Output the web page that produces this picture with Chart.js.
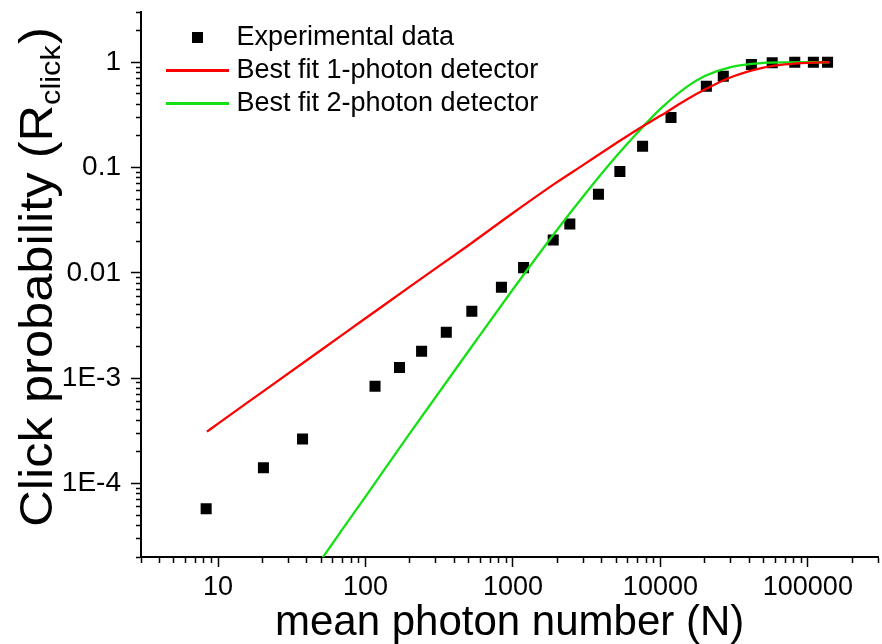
<!DOCTYPE html>
<html>
<head>
<meta charset="utf-8">
<script src="https://cdn.jsdelivr.net/npm/chart.js@4.4.1/dist/chart.umd.min.js"></script>
<style>
  html, body { margin: 0; padding: 0; background: #fff; overflow: hidden; }
  #chart_div { width: 886px; height: 644px; }
</style>
</head>
<body>
<div id="chart_div"><canvas id="click_canvas" width="886" height="644"></canvas></div>
<script>
// experimental points (mean photon number, click probability)
const exp_n = [8.3, 20.3, 37.4, 116, 170, 240, 353, 526, 835, 1180, 1875, 2430, 3800, 5310, 7570, 11800, 20500, 26700, 41400, 57300, 81500, 109000, 136000];
const exp_r = [5.75e-5, 1.41e-4, 2.64e-4, 8.35e-4, 1.26e-3, 1.80e-3, 2.72e-3, 4.31e-3, 7.28e-3, 0.0112, 0.0205, 0.0291, 0.0557, 0.0916, 0.159, 0.298, 0.591, 0.736, 0.951, 0.99, 1.0, 1.0, 1.0];

// best fit 1-photon detector
const fit1_n = [8.4, 10, 20, 50, 100, 200, 500, 1000, 2000, 3000, 5000, 7000, 10000, 15000, 20000, 30000, 50000, 70000, 100000, 140000];
const fit1_r = [3.1e-4, 3.7e-4, 7.4e-4, 1.85e-3, 3.7e-3, 7.4e-3, 0.0183, 0.037, 0.073, 0.106, 0.17, 0.23, 0.31, 0.44, 0.55, 0.72, 0.89, 0.955, 0.988, 1.0];

// best fit 2-photon detector
const fit2_n = [40, 70, 100, 200, 500, 1000, 2000, 3000, 5000, 7000, 10000, 15000, 20000, 30000, 50000, 70000, 100000, 140000];
const fit2_r = [1.2e-5, 3.7e-5, 7.5e-5, 3.0e-4, 1.81e-3, 6.98e-3, 0.0258, 0.0534, 0.127, 0.215, 0.36, 0.58, 0.74, 0.90, 0.985, 0.998, 1.0, 1.0];

const series_names = ["Experimental data", "Best fit 1-photon detector", "Best fit 2-photon detector"];

// axes
const x_min = 3, x_max = 300000;
const y_min = 2e-5, y_max = 3;
const x_major = [10, 100, 1000, 10000, 100000];
const x_labels = ["10", "100", "1000", "10000", "100000"];
const y_major = [1e-4, 1e-3, 0.01, 0.1, 1];
const y_labels = ["1E-4", "1E-3", "0.01", "0.1", "1"];

const FONT = "'Liberation Sans', Arial, sans-serif";

function to_points(xs, ys){
  return xs.map((x, i) => ({x: x, y: ys[i]}));
}

//all 1..9 x 10^k ticks inside the range
function log_ticks(min, max){
  let out = [];
  for(let e = Math.floor(Math.log10(min)); e <= Math.ceil(Math.log10(max)); e++){
    for(let k = 1; k <= 9; k++){
      const v = Number((k * Math.pow(10, e)).toPrecision(3));
      if(v >= min * 0.999 && v <= max * 1.001) out.push(v);
    }
  }
  return out;
}

function is_major(v, majors){
  return majors.some(m => Math.abs(v / m - 1) < 1e-6);
}

function label_for(v, majors, labels){
  const i = majors.findIndex(m => Math.abs(v / m - 1) < 1e-6);
  return i >= 0 ? labels[i] : "";
}

// legend icons, drawn on small canvases
function make_icon(kind, color){
  const c = document.createElement("canvas");
  c.width = 88;
  c.height = kind === "square" ? 11 : 3;
  const cx = c.getContext("2d");
  cx.fillStyle = color;
  if(kind === "square") cx.fillRect(51, 0, 11, 11);
  else cx.fillRect(25, 0, 63, 3);
  return c;
}
const legend_icons = [make_icon("square", "#000"), make_icon("line", "rgb(255,0,0)"), make_icon("line", "rgb(20,225,20)")];

// y title with subscript
const y_title_plugin = {
  id: "y_title",
  afterDraw(chart){
    const ctx = chart.ctx;
    const area = chart.chartArea;
    const main = "Click probability (R";
    const sub = "click";
    const end = ")";
    ctx.save();
    ctx.fillStyle = "#000";
    ctx.textBaseline = "alphabetic";
    ctx.translate(52, (area.top + area.bottom) / 2 - 7);
    ctx.rotate(-Math.PI / 2);
    ctx.scale(1.1, 1); // the original lettering is a bit stretched
    ctx.font = "46px " + FONT;
    const w1 = ctx.measureText(main).width;
    const w3 = ctx.measureText(end).width;
    ctx.font = "28px " + FONT;
    const w2 = ctx.measureText(sub).width;
    let x0 = -(w1 + w2 + w3) / 2;
    ctx.font = "46px " + FONT;
    ctx.fillText(main, x0, 0);
    ctx.font = "28px " + FONT;
    ctx.fillText(sub, x0 + w1, 8);
    ctx.font = "46px " + FONT;
    ctx.fillText(end, x0 + w1 + w2 + 1, 0);
    ctx.restore();
  }
};

function draw_chart(){
  const ctx_1 = document.getElementById("click_canvas");

  const data = {
    datasets: [{
      label: series_names[0],
      data: to_points(exp_n, exp_r),
      pointStyle: "rect",
      pointRadius: 7.8,
      pointBackgroundColor: "#000",
      pointBorderWidth: 0,
      showLine: false,
      order: 2
    }, {
      label: series_names[1],
      data: to_points(fit1_n, fit1_r),
      showLine: true,
      borderColor: "rgb(255,0,0)",
      borderWidth: 2.3,
      pointRadius: 0,
      cubicInterpolationMode: "monotone",
      order: 0
    }, {
      label: series_names[2],
      data: to_points(fit2_n, fit2_r),
      showLine: true,
      borderColor: "rgb(20,225,20)",
      borderWidth: 2.3,
      pointRadius: 0,
      cubicInterpolationMode: "monotone",
      order: 1
    }]
  };

  const chart_1 = new Chart(ctx_1, {
    type: "scatter",
    data: data,
    plugins: [y_title_plugin],
    options: {
      responsive: false,
      animation: false,
      devicePixelRatio: 1,
      layout: { padding: { top: 12, left: 0, right: 0, bottom: 0 } },
      plugins: {
        tooltip: { enabled: false },
        legend: {
          position: "chartArea",
          align: "start",
          title: { display: true, text: " ", padding: { top: 8, bottom: 0 }, font: { size: 10, lineHeight: 1 } },
          labels: {
            usePointStyle: true,
            pointStyleWidth: 76,
            padding: 6,
            color: "#000",
            font: { size: 27, family: FONT },
            sort: (a, b) => a.datasetIndex - b.datasetIndex,
            generateLabels: (chart) => Chart.defaults.plugins.legend.labels.generateLabels(chart).map(item => ({...item, pointStyle: legend_icons[item.datasetIndex]}))
          }
        }
      },
      scales: {
        x: {
          type: "logarithmic",
          position: "bottom",
          min: x_min,
          max: x_max,
          afterBuildTicks: (scale) => { scale.ticks = log_ticks(x_min, x_max).map(v => ({value: v})); },
          afterFit: (scale) => { scale.height = 87; scale.paddingLeft = 0; scale.paddingRight = 0; },
          border: { display: true, color: "#000", width: 2 },
          grid: {
            drawOnChartArea: false,
            drawTicks: true,
            tickLength: 10,
            tickWidth: 1.5,
            tickColor: "#000",
            tickBorderDash: (c) => is_major(c.tick.value, x_major) ? [] : [5, 30]
          },
          ticks: {
            autoSkip: false,
            maxRotation: 0,
            color: "#000",
            padding: 4,
            font: { size: 27, family: FONT },
            callback: (v) => label_for(v, x_major, x_labels)
          },
          title: {
            display: true,
            text: "mean photon number (N)",
            color: "#000",
            padding: { top: 0, bottom: 0 },
            font: { size: 42, family: FONT, lineHeight: 1 }
          }
        },
        y: {
          type: "logarithmic",
          position: "left",
          min: y_min,
          max: y_max,
          afterBuildTicks: (scale) => { scale.ticks = log_ticks(y_min, y_max).map(v => ({value: v})); },
          afterFit: (scale) => { scale.width = 141; scale.paddingTop = 0; scale.paddingBottom = 0; },
          border: { display: true, color: "#000", width: 2 },
          grid: {
            drawOnChartArea: false,
            drawTicks: true,
            tickLength: 10,
            tickWidth: 1.5,
            tickColor: "#000",
            tickBorderDash: (c) => is_major(c.tick.value, y_major) ? [] : [0, 5, 5, 30]
          },
          ticks: {
            autoSkip: false,
            color: "#000",
            padding: 10,
            font: { size: 28, family: FONT },
            callback: (v) => label_for(v, y_major, y_labels)
          },
          title: { display: false }
        }
      }
    }
  });
}

draw_chart();
</script>
</body>
</html>
